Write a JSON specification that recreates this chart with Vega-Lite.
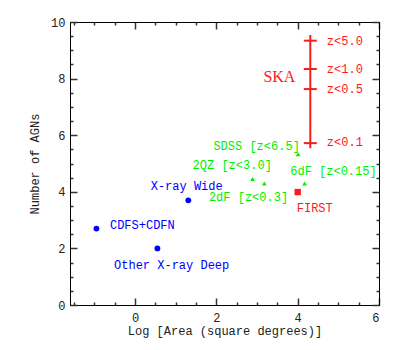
{
  "$schema": "https://vega.github.io/schema/vega-lite/v6.json",
  "width": 309,
  "height": 283,
  "autosize": "none",
  "padding": {"left": 70, "top": 22, "right": 21, "bottom": 45},
  "background": "white",
  "config": {
    "view": {"stroke": "black", "strokeWidth": 1},
    "axis": {"labelFont": "Liberation Mono", "labelFontSize": 12, "labelColor": "#222",
      "titleFont": "Liberation Mono", "titleFontSize": 12, "titleFontWeight": "normal", "titleColor": "#222",
      "domainColor": "black", "domainWidth": 1}
  },
  "datasets": {
    "xray": [
      {"survey": "CDFS+CDFN", "area": -0.95, "agn": 2.7, "group": "xray"},
      {"survey": "Other X-ray Deep", "area": 0.55, "agn": 2.0, "group": "xray"},
      {"survey": "X-ray Wide", "area": 1.31, "agn": 3.7, "group": "xray"}
    ],
    "optical": [
      {"survey": "2QZ", "area": 2.89, "agn": 4.45, "group": "optical"},
      {"survey": "2dF", "area": 3.18, "agn": 4.29, "group": "optical"},
      {"survey": "SDSS", "area": 4.01, "agn": 5.33, "group": "optical"},
      {"survey": "6dF", "area": 4.17, "agn": 4.29, "group": "optical"}
    ],
    "first": [
      {"survey": "FIRST", "area": 4.0, "agn": 3.99, "group": "radio"}
    ],
    "skaline": [
      {"survey": "SKA", "area": 4.31, "low": 5.54, "high": 9.54, "group": "radio"}
    ],
    "skaticks": [
      {"z": "z<5.0", "area": 4.31, "agn": 9.34, "group": "radio"},
      {"z": "z<1.0", "area": 4.31, "agn": 8.34, "group": "radio"},
      {"z": "z<0.5", "area": 4.31, "agn": 7.63, "group": "radio"},
      {"z": "z<0.1", "area": 4.31, "agn": 5.72, "group": "radio"}
    ],
    "labels": [
      {"label": "CDFS+CDFN", "lx": 0.18, "ly": 2.81, "group": "xray"},
      {"label": "Other X-ray Deep", "lx": 0.90, "ly": 1.41, "group": "xray"},
      {"label": "X-ray Wide", "lx": 1.27, "ly": 4.22, "group": "xray"},
      {"label": "SDSS [z<6.5]", "lx": 2.99, "ly": 5.63, "group": "optical"},
      {"label": "2QZ [z<3.0]", "lx": 2.39, "ly": 4.93, "group": "optical"},
      {"label": "2dF [z<0.3]", "lx": 2.79, "ly": 3.83, "group": "optical"},
      {"label": "6dF [z<0.15]", "lx": 4.88, "ly": 4.73, "group": "optical"},
      {"label": "FIRST", "lx": 4.42, "ly": 3.42, "group": "radio"},
      {"label": "z<5.0", "lx": 5.16, "ly": 9.34, "group": "radio"},
      {"label": "z<1.0", "lx": 5.16, "ly": 8.34, "group": "radio"},
      {"label": "z<0.5", "lx": 5.16, "ly": 7.63, "group": "radio"},
      {"label": "z<0.1", "lx": 5.16, "ly": 5.75, "group": "radio"}
    ],
    "skalabel": [
      {"label": "SKA", "lx": 3.55, "ly": 8.05, "group": "radio"}
    ]
  },
  "resolve": {"axis": {"x": "independent", "y": "independent"}},
  "layer": [
    {
      "data": {"name": "xray"},
      "mark": {"type": "point", "shape": "circle", "filled": true, "size": 34, "opacity": 1},
      "encoding": {
        "x": {"field": "area", "type": "quantitative", "scale": {"domain": [-1.6, 6], "nice": false, "zero": false},
          "axis": {"orient": "bottom", "values": [0, 2, 4, 6], "grid": false, "tickColor": "#333", "tickWidth": 1.5, "tickSize": -7, "labelPadding": 14, "title": "Log [Area (square degrees)]", "titlePadding": 2}},
        "y": {"field": "agn", "type": "quantitative", "scale": {"domain": [0, 10], "nice": false, "zero": false},
          "axis": {"orient": "left", "values": [0, 2, 4, 6, 8, 10], "grid": false, "tickColor": "#333", "tickWidth": 1.5, "tickSize": -7, "labelPadding": 12, "title": "Number of AGNs", "titlePadding": 9}},
        "color": {"field": "group", "type": "nominal", "scale": {"domain": ["xray", "optical", "radio"], "range": ["#0000ff", "#00ee00", "#ff1a1a"]}, "legend": null}
      }
    },
    {
      "data": {"name": "optical"},
      "mark": {"type": "point", "shape": "triangle-up", "filled": true, "size": 22, "opacity": 1},
      "encoding": {
        "x": {"field": "area", "type": "quantitative",
          "axis": {"orient": "bottom", "values": [-1.5, -1, -0.5, 0.5, 1, 1.5, 2.5, 3, 3.5, 4.5, 5, 5.5], "grid": false, "tickColor": "#333", "tickWidth": 1.5, "tickSize": -3, "labels": false, "title": null}},
        "y": {"field": "agn", "type": "quantitative",
          "axis": {"orient": "left", "values": [0.5, 1, 1.5, 2.5, 3, 3.5, 4.5, 5, 5.5, 6.5, 7, 7.5, 8.5, 9, 9.5], "grid": false, "tickColor": "#333", "tickWidth": 1.5, "tickSize": -3, "labels": false, "title": null}},
        "color": {"field": "group", "type": "nominal", "legend": null}
      }
    },
    {
      "data": {"name": "first"},
      "mark": {"type": "square", "filled": true, "size": 40, "opacity": 1},
      "encoding": {
        "x": {"field": "area", "type": "quantitative",
          "axis": {"orient": "top", "values": [0, 2, 4, 6], "grid": false, "tickColor": "#333", "tickWidth": 1.5, "tickSize": -7, "labels": false, "title": null}},
        "y": {"field": "agn", "type": "quantitative",
          "axis": {"orient": "right", "values": [0, 2, 4, 6, 8, 10], "grid": false, "tickColor": "#333", "tickWidth": 1.5, "tickSize": -7, "labels": false, "title": null}},
        "color": {"field": "group", "type": "nominal", "legend": null}
      }
    },
    {
      "data": {"name": "skaline"},
      "mark": {"type": "rule", "strokeWidth": 2},
      "encoding": {
        "x": {"field": "area", "type": "quantitative",
          "axis": {"orient": "top", "values": [-1.5, -1, -0.5, 0.5, 1, 1.5, 2.5, 3, 3.5, 4.5, 5, 5.5], "grid": false, "tickColor": "#333", "tickWidth": 1.5, "tickSize": -3, "labels": false, "title": null}},
        "y": {"field": "low", "type": "quantitative",
          "axis": {"orient": "right", "values": [0.5, 1, 1.5, 2.5, 3, 3.5, 4.5, 5, 5.5, 6.5, 7, 7.5, 8.5, 9, 9.5], "grid": false, "tickColor": "#333", "tickWidth": 1.5, "tickSize": -3, "labels": false, "title": null}},
        "y2": {"field": "high"},
        "color": {"field": "group", "type": "nominal", "legend": null}
      }
    },
    {
      "data": {"name": "skaticks"},
      "mark": {"type": "tick", "orient": "horizontal", "size": 13, "thickness": 2, "opacity": 1},
      "encoding": {
        "x": {"field": "area", "type": "quantitative", "axis": null},
        "y": {"field": "agn", "type": "quantitative", "axis": null},
        "color": {"field": "group", "type": "nominal", "legend": null}
      }
    },
    {
      "data": {"name": "labels"},
      "mark": {"type": "text", "font": "Liberation Mono", "fontSize": 12, "align": "center", "baseline": "middle"},
      "encoding": {
        "x": {"field": "lx", "type": "quantitative", "axis": null},
        "y": {"field": "ly", "type": "quantitative", "axis": null},
        "text": {"field": "label"},
        "color": {"field": "group", "type": "nominal", "legend": null}
      }
    },
    {
      "data": {"name": "skalabel"},
      "mark": {"type": "text", "font": "Liberation Serif", "fontSize": 16, "align": "center", "baseline": "middle"},
      "encoding": {
        "x": {"field": "lx", "type": "quantitative", "axis": null},
        "y": {"field": "ly", "type": "quantitative", "axis": null},
        "text": {"field": "label"},
        "color": {"field": "group", "type": "nominal", "legend": null}
      }
    }
  ]
}
